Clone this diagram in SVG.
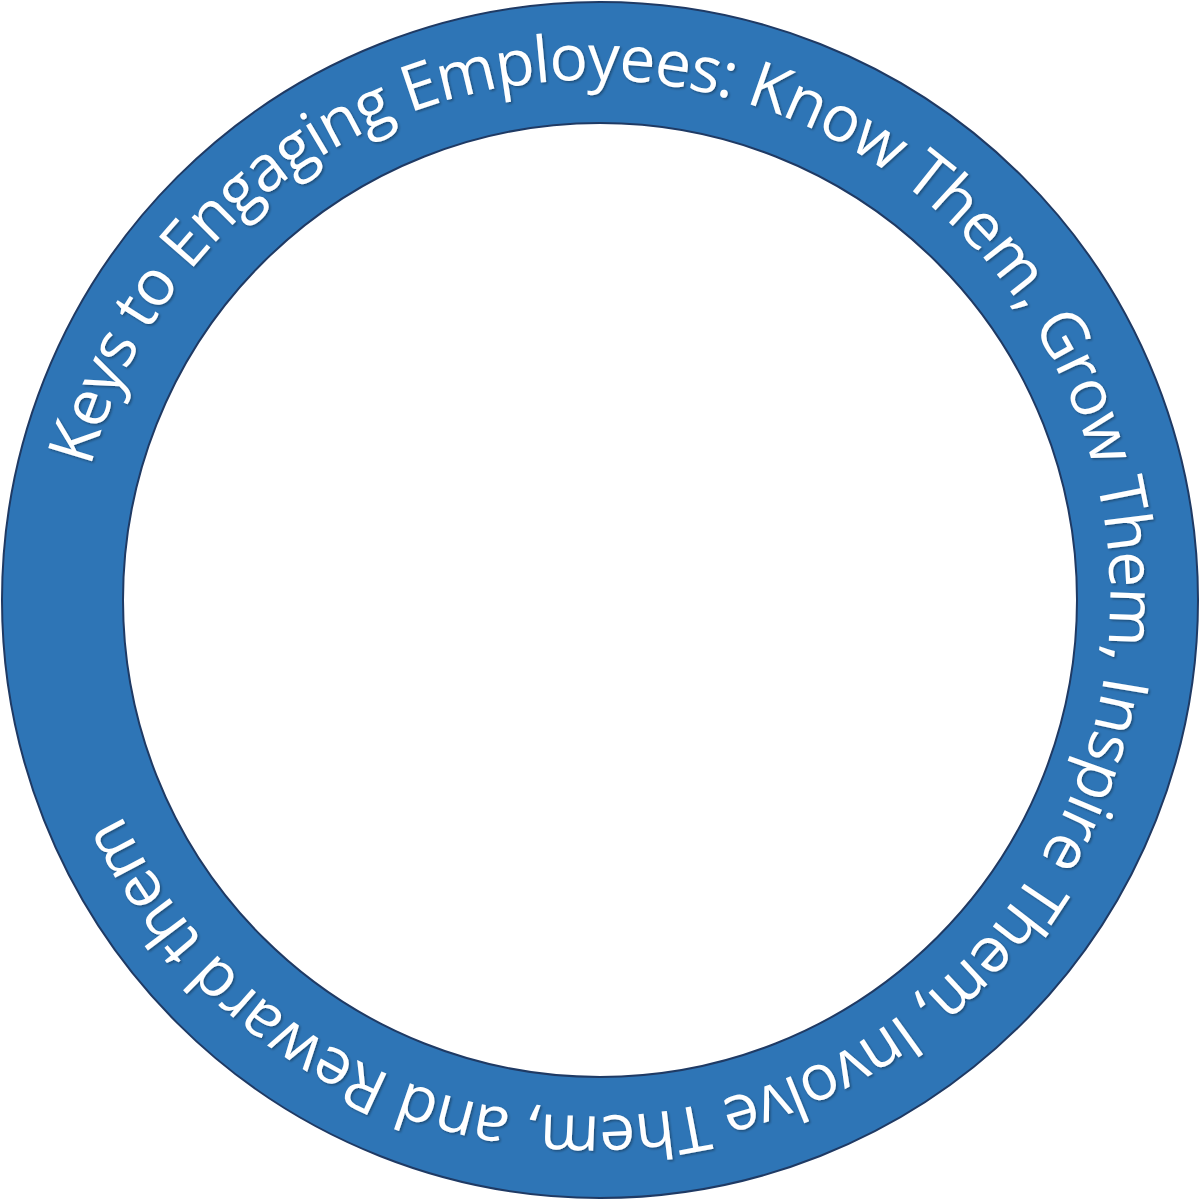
<svg xmlns="http://www.w3.org/2000/svg" xmlns:xlink="http://www.w3.org/1999/xlink" width="1200" height="1200" viewBox="0 0 1200 1200">
  <style>
    .ring { fill: #2E75B6; stroke: #1F3A64; stroke-width: 2; fill-rule: evenodd; }
    .label { font-family: "Open Sans", "Liberation Sans", sans-serif; font-size: 64px; fill: #FFFFFF; }
  </style>
  <defs>
    <path id="textArc" d="M 90.7 467.4 A 518 518 0 1 1 1093.3 728.6 A 518 518 0 1 1 90.7 467.4"/>
    <filter id="shadow" x="-5%" y="-5%" width="110%" height="110%">
      <feDropShadow dx="1.5" dy="1.5" stdDeviation="1" flood-color="#000000" flood-opacity="0.35"/>
    </filter>
  </defs>
  <rect width="1200" height="1200" fill="#FFFFFF"/>
  <g id="ring">
    <path class="ring" d="M 2 600 A 598 598 0 1 0 1198 600 A 598 598 0 1 0 2 600 Z M 123 600 A 477 477 0 1 1 1077 600 A 477 477 0 1 1 123 600 Z"/>
  </g>
  <g id="ring-text" filter="url(#shadow)">
    <text class="label"><textPath xlink:href="#textArc" href="#textArc" textLength="2900" lengthAdjust="spacing">Keys to Engaging Employees: Know Them, Grow Them, Inspire Them, Involve Them, and Reward them</textPath></text>
  </g>
</svg>
